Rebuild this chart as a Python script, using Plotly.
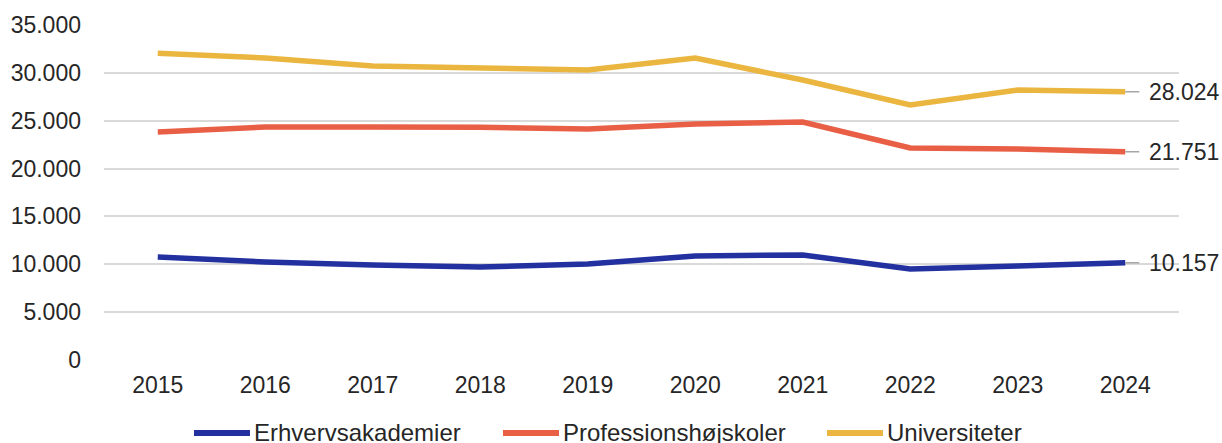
import plotly.graph_objects as go

# --- Data ---
years = [2015, 2016, 2017, 2018, 2019, 2020, 2021, 2022, 2023, 2024]
erhvervsakademier = [10760, 10240, 9930, 9720, 10030, 10870, 10970, 9510, 9820, 10157]
professionshojskoler = [23820, 24340, 24340, 24320, 24130, 24650, 24870, 22150, 22050, 21751]
universiteter = [32050, 31550, 30720, 30500, 30300, 31550, 29250, 26640, 28200, 28024]

series = [
    ("Erhvervsakademier", erhvervsakademier, "#2230a0"),
    ("Professionshøjskoler", professionshojskoler, "#e95f46"),
    ("Universiteter", universiteter, "#ebb63f"),
]

FONT = "Liberation Sans, Arial, sans-serif"
FS = 23

W, H = 1222, 443
L, R, T, B = 104, 43, 25, 83
PW, PH = W - L - R, H - T - B


def px_x(x):  # figure pixel -> paper x
    return (x - L) / PW


def px_y(y):  # figure pixel -> paper y
    return (H - B - y) / PH


fig = go.Figure()
for name, vals, color in series:
    fig.add_trace(go.Scatter(
        x=years, y=vals, name=name, mode="lines",
        line=dict(color=color, width=5.5),
    ))
    # end label with little grey leader line
    last = vals[-1]
    fig.add_annotation(
        x=years[-1], y=last, text=f"{last:,}".replace(",", "."),
        showarrow=True, arrowhead=0, arrowcolor="#a6a6a6", arrowwidth=1.5,
        ax=22, ay=0, xanchor="left", yanchor="middle",
        startstandoff=8,
        font=dict(family=FONT, size=FS, color="#262626"),
    )

# legend drawn by hand to get the long line samples
legend_pos = [194, 503, 827]  # left edge of each sample line (figure px)
for (name, vals, color), lx in zip(series, legend_pos):
    fig.add_shape(
        type="line", xref="paper", yref="paper",
        x0=px_x(lx), x1=px_x(lx + 56), y0=px_y(433), y1=px_y(433),
        line=dict(color=color, width=6),
    )
    fig.add_annotation(
        xref="paper", yref="paper", x=px_x(lx + 58), y=px_y(432),
        text=name, showarrow=False, xanchor="left", yanchor="middle",
        font=dict(family=FONT, size=24, color="#262626"),
    )

fig.update_layout(
    width=W, height=H,
    margin=dict(l=L, r=R, t=T, b=B),
    plot_bgcolor="white", paper_bgcolor="white",
    font=dict(family=FONT, size=FS, color="#262626"),
    showlegend=False,
    xaxis=dict(
        range=[2014.5, 2024.5], dtick=1, tickformat="d",
        showgrid=False, showline=False, zeroline=False, ticks="",
        ticklabelstandoff=9, tickfont=dict(size=FS),
    ),
    yaxis=dict(
        range=[0, 35000], dtick=5000, tickformat=",d",
        gridcolor="#d9d9d9", gridwidth=1.5, zeroline=False,
        showline=False, ticks="", ticklabelstandoff=22,
        tickfont=dict(size=FS),
    ),
    separators=",.",
)

# drop the browser's default body margin so the figure sits at 0,0
fig.write_html(
    "out.html",
    config={"displayModeBar": False},
    post_script="document.body.style.margin='0';document.body.style.overflow='hidden';",
)
